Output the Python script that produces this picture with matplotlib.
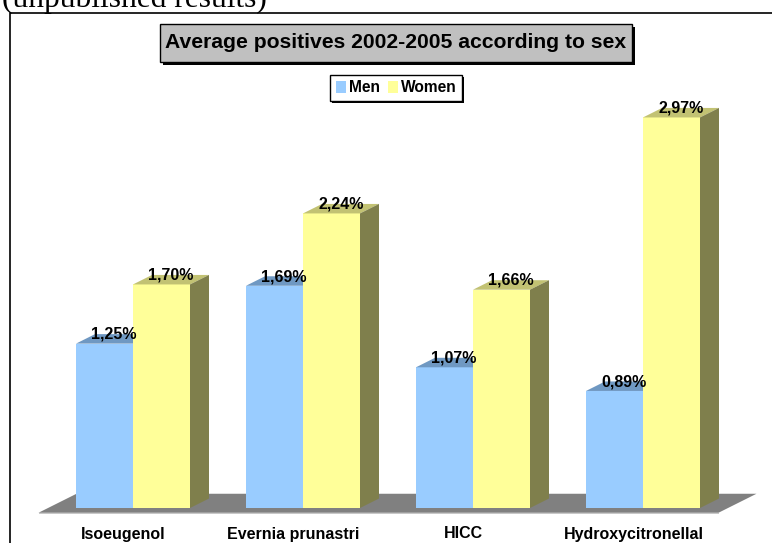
import matplotlib
matplotlib.use("Agg")
import matplotlib.pyplot as plt
import matplotlib.patheffects as pe
from matplotlib.patches import Polygon, Rectangle, Patch

# Daten
kategorien = ["Isoeugenol", "Evernia prunastri", "HICC", "Hydroxycitronellal"]
maenner = [1.25, 1.69, 1.07, 0.89]
frauen = [1.70, 2.24, 1.66, 2.97]
serien = ["Men", "Women"]

# Farben
farbe_m = "#99CCFF"
farbe_m_oben = "#6F98C2"
farbe_f = "#FFFF99"
farbe_f_oben = "#C2C273"
farbe_f_seite = "#7F7F4C"
boden = "#808080"

plt.rcParams["font.family"] = ["Liberation Sans", "DejaVu Sans"]

fig = plt.figure(figsize=(7.72, 5.43), dpi=100)
ax = fig.add_axes([0, 0, 1, 1])
ax.set_xlim(-133 / 170, (772 - 133) / 170)
ax.set_ylim(-35 / 131.5, 508 / 131.5)
ax.axis("off")

breite = 57 / 170   # Balkenbreite
dx = 19 / 170       # Tiefe x
dy = 9.5 / 131.5    # Tiefe y
n = len(kategorien)
schrift = 11.5


def fmt(v):
    return f"{v:.2f}".replace(".", ",") + "%"


# Boden
x0, x1 = -0.5 - 0.5 * dx, n - 0.5 - 0.5 * dx
y0 = -0.5 * dy
boden_poly = [(x0, y0), (x1, y0), (x1 + 2 * dx, y0 + 2 * dy), (x0 + 2 * dx, y0 + 2 * dy)]
ax.add_patch(Polygon(boden_poly, closed=True, fc=boden, ec="none", zorder=1))
ax.add_patch(Polygon([(x0, y0), (x1, y0), (x1, y0 - 0.012), (x0, y0 - 0.012)],
                     closed=True, fc="#C8C8C8", ec="none", zorder=1))

for i in range(n):
    hm, hf = maenner[i], frauen[i]
    xm = i - breite
    xf = i
    # Maenner
    ax.bar(xm, hm, width=breite, align="edge", color=farbe_m, zorder=2)
    ax.add_patch(Polygon([(xm, hm), (xm + breite, hm), (xm + breite + dx, hm + dy), (xm + dx, hm + dy)],
                         closed=True, fc=farbe_m_oben, ec="none", zorder=2))
    # Frauen
    ax.bar(xf, hf, width=breite, align="edge", color=farbe_f, zorder=3)
    ax.add_patch(Polygon([(xf, hf), (xf + breite, hf), (xf + breite + dx, hf + dy), (xf + dx, hf + dy)],
                         closed=True, fc=farbe_f_oben, ec="none", zorder=3))
    ax.add_patch(Polygon([(xf + breite, 0), (xf + breite, hf), (xf + breite + dx, hf + dy), (xf + breite + dx, dy)],
                         closed=True, fc=farbe_f_seite, ec="none", zorder=3))
    # Beschriftungen
    ax.text(xm + breite / 2 + dx / 2, hm + dy / 2, fmt(hm), ha="center", va="baseline",
            fontsize=schrift, fontweight="bold", zorder=5)
    ax.text(xf + breite / 2 + dx / 2, hf + dy / 2, fmt(hf), ha="center", va="baseline",
            fontsize=schrift, fontweight="bold", zorder=5)
    ax.text(i - 0.5 * dx, -26 / 131.5, kategorien[i], ha="center", va="center",
            fontsize=schrift, fontweight="bold", zorder=5)

# Rahmen
fig.patches.append(Rectangle((9.5 / 772, -0.05), 1.2, 1.05 - 12.5 / 543, transform=fig.transFigure,
                             fill=False, ec="black", lw=1.2, zorder=0))

# Text oben (abgeschnitten wie im Original)
fig.text(2 / 772, 1 - 6.5 / 543, "(unpublished results)", family="Liberation Serif",
         fontsize=22.7, ha="left", va="baseline")

# Titel mit Kasten
kasten = Rectangle((160 / 772, 1 - 62 / 543), 472 / 772, 38 / 543, transform=fig.transFigure,
                   fc="#C0C0C0", ec="black", lw=1, zorder=6)
kasten.set_path_effects([
    pe.SimplePatchShadow(offset=(2.2, -2.2), shadow_rgbFace="black", alpha=1.0), pe.Normal()])
fig.patches.append(kasten)
fig.text(396 / 772, 1 - 43 / 543, "Average positives 2002-2005 according to sex",
         ha="center", va="center", fontsize=15.2, fontweight="bold", zorder=7)

# Legende
griffe = [Patch(fc=farbe_m, ec="none", label=serien[0]), Patch(fc=farbe_f, ec="none", label=serien[1])]
leg = fig.legend(handles=griffe, loc="center", bbox_to_anchor=(396 / 772, 1 - 88 / 543), ncol=2,
                 fancybox=False, edgecolor="black", framealpha=1, handlelength=0.7, handleheight=0.75,
                 handletextpad=0.15, columnspacing=0.5, borderpad=0.35,
                 prop=dict(weight="bold", size=11.2))
leg.get_frame().set_linewidth(1)
leg.get_frame().set_path_effects([
    pe.SimplePatchShadow(offset=(1.6, -1.6), shadow_rgbFace="black", alpha=1.0), pe.Normal()])

fig.savefig("out.png", dpi=100)
